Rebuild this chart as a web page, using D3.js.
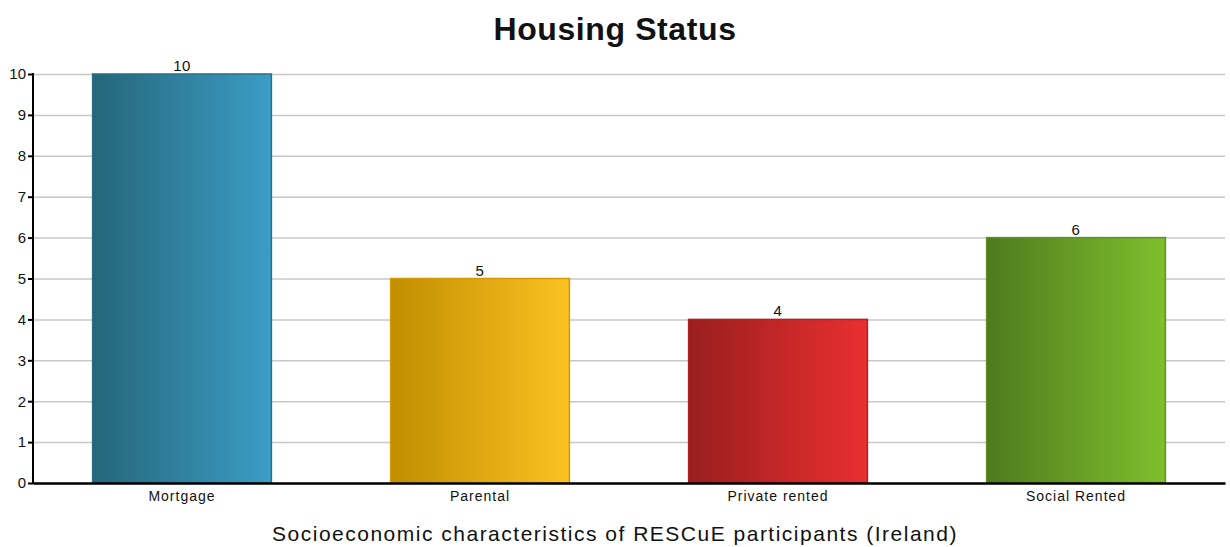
<!DOCTYPE html>
<html>
<head>
<meta charset="utf-8">
<script src="https://cdn.jsdelivr.net/npm/d3@7"></script>
<style>
  body { margin: 0; background: #fff; }
  text { font-family: "Liberation Sans", Arial, sans-serif; fill: #111; }
  .grid line { stroke: #c8c8c8; stroke-width: 1.5; }
  .grid .domain { display: none; }
</style>
</head>
<body>
<svg width="1230" height="547"></svg>
<script>
var categories = ["Mortgage", "Parental", "Private rented", "Social Rented"];
var counts = [10, 5, 4, 6];
var yTicks = [0, 1, 2, 3, 4, 5, 6, 7, 8, 9, 10];
var gradStart = ["#256679", "#c18e00", "#9a1e1f", "#4e7a1f"];
var gradEnd = ["#3b9dc6", "#fcc222", "#ea2f30", "#7ec02c"];
var strokeCol = ["#2a6f86", "#d09a05", "#b02222", "#5f9026"];

var svg = d3.select("svg"),
    margin = {top: 74, right: 5, bottom: 64, left: 33},
    width = +svg.attr("width") - margin.left - margin.right,
    height = +svg.attr("height") - margin.top - margin.bottom,
    g = svg.append("g").attr("transform", "translate(" + margin.left + "," + margin.top + ")");

var x = d3.scaleBand()
    .domain(categories)
    .range([0, width])
    .paddingInner(0.4)
    .paddingOuter(0.2);

var y = d3.scaleLinear()
    .domain([0, 10])
    .range([height, 0]);

// gradients
var defs = svg.append("defs");
categories.forEach(function(c, i) {
    var lg = defs.append("linearGradient")
        .attr("id", "grad" + i)
        .attr("x1", "0%").attr("x2", "100%")
        .attr("y1", "0%").attr("y2", "0%");
    lg.append("stop").attr("offset", "0%").attr("stop-color", gradStart[i]);
    lg.append("stop").attr("offset", "100%").attr("stop-color", gradEnd[i]);
});

// grid lines
g.append("g")
    .attr("class", "grid")
    .call(d3.axisLeft(y).tickValues(yTicks).tickSize(-width).tickFormat(""));

// bars
g.selectAll(".bar")
    .data(counts)
    .enter().append("rect")
    .attr("class", "bar")
    .attr("x", (d, i) => x(categories[i]))
    .attr("y", d => y(d))
    .attr("width", x.bandwidth())
    .attr("height", d => height - y(d))
    .attr("fill", (d, i) => "url(#grad" + i + ")")
    .attr("stroke", (d, i) => strokeCol[i])
    .attr("stroke-width", 1.5);

// value labels
g.selectAll(".label")
    .data(counts)
    .enter().append("text")
    .attr("class", "label")
    .attr("x", (d, i) => x(categories[i]) + x.bandwidth() / 2)
    .attr("y", d => y(d) - 3)
    .attr("text-anchor", "middle")
    .style("font-size", "15px")
    .style("letter-spacing", "0.5px")
    .text(d => d);

// axes
var yAxis = g.append("g")
    .call(d3.axisLeft(y).tickValues(yTicks).tickSize(5).tickPadding(2));
yAxis.selectAll("text").style("font-size", "15px").style("fill", "#111");
yAxis.selectAll("line, path").attr("stroke", "#000").attr("stroke-width", 2);
yAxis.select(".domain").attr("d", "M0," + (height + 1) + "V-1");

var xAxis = g.append("g")
    .attr("transform", "translate(0," + height + ")")
    .call(d3.axisBottom(x).tickSize(0).tickPadding(8));
xAxis.select(".domain").attr("stroke", "#000").attr("stroke-width", 2.5);
xAxis.selectAll("text").style("font-size", "14px").style("letter-spacing", "1px").style("fill", "#111");

// title
svg.append("text")
    .attr("x", 615)
    .attr("y", 40)
    .attr("text-anchor", "middle")
    .style("font-size", "32px")
    .style("font-weight", "bold")
    .style("letter-spacing", "0.6px")
    .text("Housing Status");

// x axis label
svg.append("text")
    .attr("x", 615)
    .attr("y", 541)
    .attr("text-anchor", "middle")
    .style("font-size", "21px")
    .style("letter-spacing", "1.5px")
    .text("Socioeconomic characteristics of RESCuE participants (Ireland)");
</script>
</body>
</html>
